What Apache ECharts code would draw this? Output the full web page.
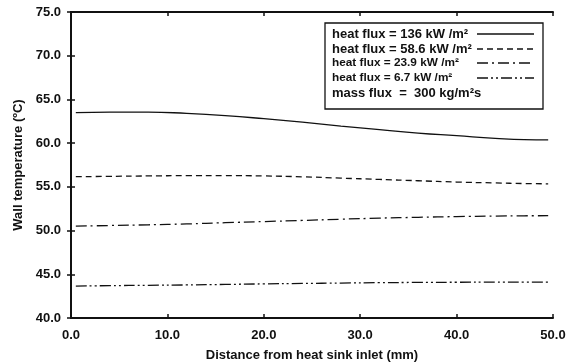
<!DOCTYPE html>
<html>
<head>
<meta charset="utf-8">
<script src="https://cdn.jsdelivr.net/npm/echarts@6/dist/echarts.min.js"></script>
<style>
  html, body { margin: 0; padding: 0; background: #fff; }
  #chart { width: 567px; height: 363px; }
</style>
</head>
<body>
<div id="chart"></div>
<script>
// Distance along the heat sink (mm)
const distance = [0.5, 4, 8, 12, 16, 20, 24, 28, 32, 36, 40, 44, 47, 49.5];

// Wall temperature (°C) for each heat flux
const q136 = [63.48, 63.55, 63.55, 63.4, 63.15, 62.8, 62.4, 61.95, 61.55, 61.15, 60.85, 60.55, 60.4, 60.38];
const q58_6 = [56.16, 56.2, 56.25, 56.28, 56.28, 56.25, 56.15, 56.0, 55.85, 55.7, 55.55, 55.45, 55.38, 55.35];
const q23_9 = [50.51, 50.58, 50.66, 50.76, 50.9, 51.03, 51.16, 51.3, 51.42, 51.52, 51.6, 51.66, 51.69, 51.7];
const q6_7 = [43.65, 43.7, 43.74, 43.78, 43.84, 43.9, 43.95, 44.0, 44.04, 44.07, 44.09, 44.1, 44.1, 44.1];

const xTicks = [0, 10, 20, 30, 40, 50];
const yTicks = [40, 45, 50, 55, 60, 65, 70, 75];

const legendLabels = [
  'heat flux = 136 kW /m²',
  'heat flux = 58.6 kW /m²',
  'heat flux = 23.9 kW /m²',
  'heat flux = 6.7 kW /m²'
];
const massFluxLabel = 'mass flux  =  300 kg/m²s';

const dashes = ['solid', [6, 4], [11, 4, 2, 4], [11, 3, 2, 3, 2, 3]];
const seriesData = [q136, q58_6, q23_9, q6_7];

const font = 'Liberation Sans, Arial, sans-serif';
const ink = '#111';

const grid = { left: 71, right: 14, top: 12, bottom: 45, containLabel: false, outerBoundsMode: 'none' };

const chart = echarts.init(document.getElementById('chart'), null, { renderer: 'canvas' });

function axisCommon() {
  return {
    axisLine: { show: true, lineStyle: { color: ink, width: 2 } },
    axisTick: { show: true, inside: true, length: 4, lineStyle: { color: ink, width: 1.5 } },
    splitLine: { show: false }
  };
}

const series = seriesData.map((vals, i) => ({
  name: legendLabels[i],
  type: 'line',
  smooth: true,
  symbol: 'none',
  data: distance.map((d, k) => [d, vals[k]]),
  lineStyle: { color: ink, width: 1.3, type: dashes[i] }
}));

// Legend box drawn with graphic elements
const boxLeft = 325, boxTop = 23, boxW = 218, boxH = 86;
const rowY = [34, 49, 63, 78, 93];
const rowSize = [13, 13, 11.8, 11.8, 13];
const graphics = [{
  type: 'rect',
  shape: { x: boxLeft, y: boxTop, width: boxW, height: boxH },
  style: { fill: '#fff', stroke: ink, lineWidth: 1.3 },
  z: 100
}];
legendLabels.concat([massFluxLabel]).forEach((t, i) => {
  graphics.push({
    type: 'text',
    x: boxLeft + 7, y: rowY[i],
    style: { text: t, font: 'bold ' + rowSize[i] + 'px ' + font, fill: ink, textVerticalAlign: 'middle' },
    z: 101
  });
});
dashes.forEach((d, i) => {
  graphics.push({
    type: 'line',
    shape: { x1: 477, y1: rowY[i], x2: 534, y2: rowY[i] },
    style: { stroke: ink, lineWidth: 1.3, lineDash: d === 'solid' ? null : d },
    z: 101
  });
});

chart.setOption({
  backgroundColor: '#fff',
  animation: false,
  grid: grid,
  xAxis: [{
    type: 'value', min: 0, max: 50, interval: 10,
    name: 'Distance from heat sink inlet (mm)',
    nameLocation: 'middle', nameGap: 31,
    nameTextStyle: { fontFamily: font, fontWeight: 'bold', fontSize: 13, color: ink },
    axisLabel: { fontFamily: font, fontWeight: 'bold', fontSize: 13, color: ink, margin: 11,
      formatter: v => xTicks.includes(v) ? v.toFixed(1) : '' },
    ...axisCommon()
  }, {
    type: 'value', min: 0, max: 50, interval: 10, position: 'top',
    axisLabel: { show: false }, ...axisCommon()
  }],
  yAxis: [{
    type: 'value', min: 40, max: 75, interval: 5,
    name: 'Wall temperature (ºC)',
    nameLocation: 'middle', nameGap: 46,
    nameTextStyle: { fontFamily: font, fontWeight: 'bold', fontSize: 13, color: ink },
    axisLabel: { fontFamily: font, fontWeight: 'bold', fontSize: 13, color: ink, margin: 10,
      formatter: v => yTicks.includes(v) ? v.toFixed(1) : '' },
    ...axisCommon()
  }, {
    type: 'value', min: 40, max: 75, interval: 5, position: 'right',
    axisLabel: { show: false }, ...axisCommon()
  }],
  series: series,
  graphic: graphics
});
</script>
</body>
</html>
